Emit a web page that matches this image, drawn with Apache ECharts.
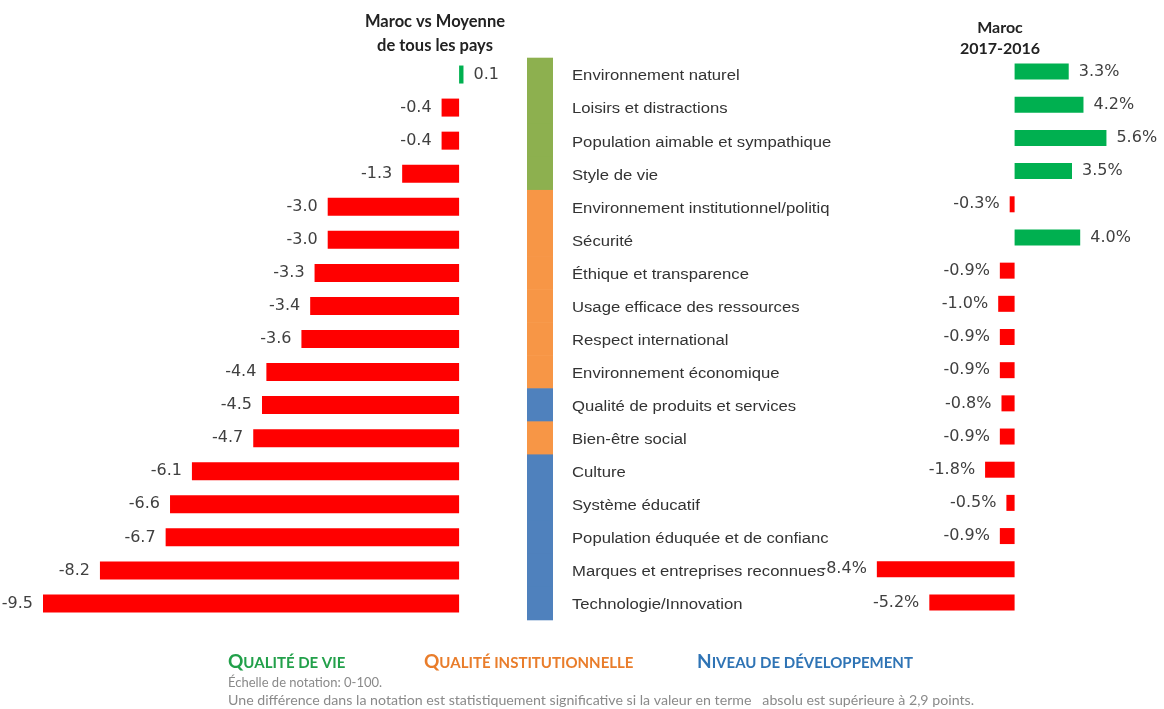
<!DOCTYPE html>
<html>
<head>
<meta charset="utf-8">
<script src="https://cdn.jsdelivr.net/npm/echarts@6/dist/echarts.min.js"></script>
<style>
html,body{margin:0;padding:0;background:#fff;}
#chart{width:1164px;height:709px;}
</style>
</head>
<body>
<div id="chart"></div>
<script>
const categories = [
  "Environnement naturel",
  "Loisirs et distractions",
  "Population aimable et sympathique",
  "Style de vie",
  "Environnement institutionnel/politique",
  "Sécurité",
  "Éthique et transparence",
  "Usage efficace des ressources",
  "Respect international",
  "Environnement économique",
  "Qualité de produits et services",
  "Bien-être social",
  "Culture",
  "Système éducatif",
  "Population éduquée et de confiance",
  "Marques et entreprises reconnues",
  "Technologie/Innovation"
];
const vsAverage = [0.1, -0.4, -0.4, -1.3, -3.0, -3.0, -3.3, -3.4, -3.6, -4.4, -4.5, -4.7, -6.1, -6.6, -6.7, -8.2, -9.5];
const change2017_2016 = [3.3, 4.2, 5.6, 3.5, -0.3, 4.0, -0.9, -1.0, -0.9, -0.9, -0.8, -0.9, -1.8, -0.5, -0.9, -8.4, -5.2];
// group per category: 0 = Qualité de vie, 1 = Qualité institutionnelle, 2 = Niveau de développement
const groups = [0, 0, 0, 0, 1, 1, 1, 1, 1, 1, 2, 1, 2, 2, 2, 2, 2];
const groupNames = ["Qualité de vie", "Qualité institutionnelle", "Niveau de développement"];

const stripColors = ["#8DB04F", "#F79646", "#4F81BD"];
const legendColors = ["#22A04A", "#E97D2B", "#2F74B5"];
const POS = "#00B050", NEG = "#FF0000";

const chart = echarts.init(document.getElementById('chart'));

function barData(arr) {
  return arr.map(v => ({
    value: v,
    itemStyle: { color: v >= 0 ? POS : NEG },
    label: { position: v >= 0 ? 'right' : 'left' }
  }));
}

function smallCaps(name, key) {
  const up = name.toUpperCase();
  return '{' + key + 'B|' + up[0] + '}{' + key + 'S|' + up.slice(1) + '}';
}

const rich = {};
groupNames.forEach((g, i) => {
  rich['g' + i + 'B'] = { fontSize: 19, fontWeight: 'bold', fill: legendColors[i], fontFamily: 'Lato', verticalAlign: 'bottom' };
  rich['g' + i + 'S'] = { fontSize: 15, fontWeight: 'bold', fill: legendColors[i], fontFamily: 'Lato', verticalAlign: 'bottom' };
});

const option = {
  animation: false,
  backgroundColor: '#fff',
  grid: [
    { left: 43, width: 438, top: 58, height: 562 },
    { left: 527, width: 26, top: 58, height: 562 },
    { left: 867, width: 246, top: 55, height: 564 }
  ],
  xAxis: [
    { gridIndex: 0, type: 'value', min: -9.5, max: 0.5, show: false },
    { gridIndex: 1, type: 'value', min: 0, max: 1, show: false },
    { gridIndex: 2, type: 'value', min: -9, max: 6, show: false }
  ],
  yAxis: [
    { gridIndex: 0, type: 'category', data: categories, inverse: true, show: false },
    { gridIndex: 1, type: 'category', data: categories, inverse: true, show: false },
    { gridIndex: 2, type: 'category', data: categories, inverse: true, show: false }
  ],
  series: [
    {
      type: 'bar', xAxisIndex: 0, yAxisIndex: 0, barWidth: 18,
      data: barData(vsAverage),
      label: { show: true, distance: 10, color: '#404040', fontSize: 16, fontFamily: 'DejaVu Sans',
        formatter: p => p.value.toFixed(1) }
    },
    {
      type: 'custom', xAxisIndex: 1, yAxisIndex: 1, clip: false,
      data: categories.map((c, i) => [0, i]),
      encode: { x: 0, y: 1 },
      renderItem: function (params, api) {
        const i = api.value(1);
        const p0 = api.coord([0, i]);
        const p1 = api.coord([1, i]);
        const h = api.size([0, 1])[1];
        return {
          type: 'group',
          children: [
            { type: 'rect', shape: { x: p0[0], y: p0[1] - h / 2 - 0.3, width: p1[0] - p0[0], height: h + 0.6 },
              style: { fill: stripColors[groups[i]] } },
            { type: 'text', x: p1[0] + 19, y: p0[1] + 2, scaleX: 1.19,
              style: { text: categories[i], font: '14px "Liberation Sans"', fill: '#333',
                align: 'left', verticalAlign: 'middle', width: 223, overflow: 'truncate', ellipsis: '' } }
          ]
        };
      }
    },
    {
      type: 'bar', xAxisIndex: 2, yAxisIndex: 2, barWidth: 16,
      data: barData(change2017_2016),
      label: { show: true, distance: 10, color: '#404040', fontSize: 16, fontFamily: 'DejaVu Sans',
        formatter: p => p.value.toFixed(1) + '%' }
    }
  ],
  graphic: [
    { type: 'text', x: 435, y: 10,
      style: { text: 'Maroc vs Moyenne\nde tous les pays', align: 'center', fill: '#222',
        font: 'bold 16.5px Lato', lineHeight: 24 } },
    { type: 'text', x: 1000, y: 17,
      style: { text: 'Maroc\n2017-2016', align: 'center', fill: '#222', font: 'bold 16px Lato', lineHeight: 21 } },
    { type: 'text', x: 228, y: 652,
      style: { text: smallCaps(groupNames[0], 'g0'), rich: rich, align: 'left' } },
    { type: 'text', x: 424, y: 652,
      style: { text: smallCaps(groupNames[1], 'g1'), rich: rich, align: 'left' } },
    { type: 'text', x: 697, y: 652,
      style: { text: smallCaps(groupNames[2], 'g2'), rich: rich, align: 'left' } },
    { type: 'text', x: 228, y: 676,
      style: { text: 'Échelle de notation: 0-100.', fill: '#8a8a8a', font: '13px Lato' } },
    { type: 'text', x: 228, y: 693,
      style: { text: 'Une différence dans la notation est statistiquement significative si la valeur en terme   absolu est supérieure à 2,9 points.', fill: '#8a8a8a', font: '14.2px Lato' } }
  ]
};
chart.setOption(option);
</script>
</body>
</html>
